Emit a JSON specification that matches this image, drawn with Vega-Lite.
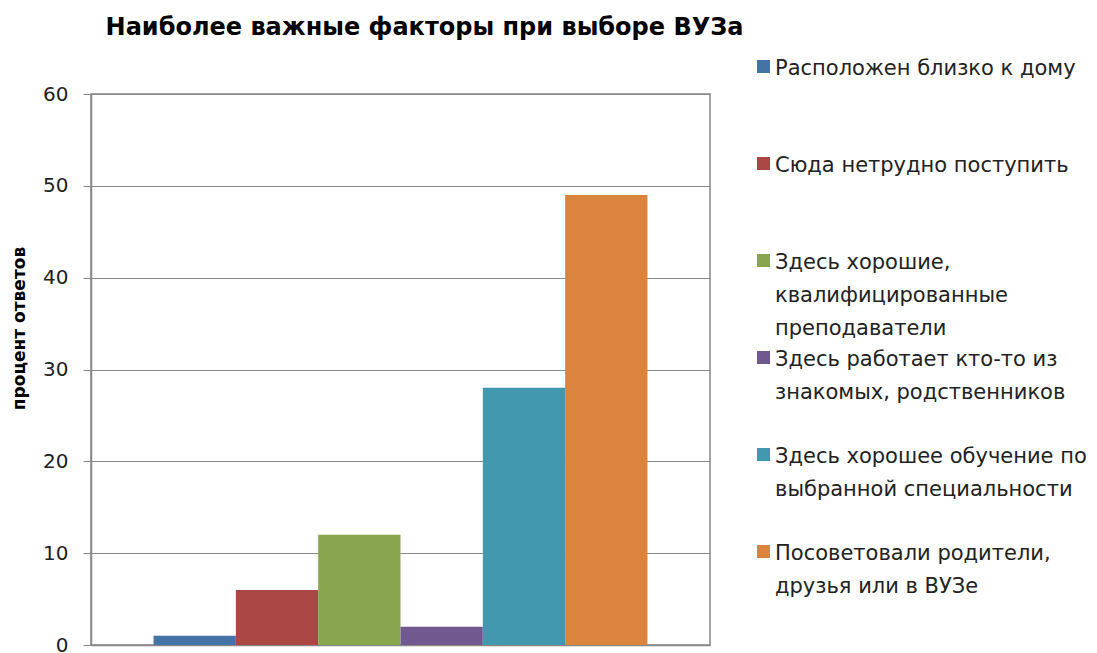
{
  "$schema": "https://vega.github.io/schema/vega-lite/v6.json",
  "autosize": {"type": "none"},
  "width": 619,
  "height": 551,
  "padding": {"left": 91, "top": 94, "right": 387, "bottom": 8},
  "background": "white",
  "title": {
    "text": "Наиболее важные факторы при выборе ВУЗа",
    "font": "DejaVu Sans",
    "fontSize": 24,
    "fontWeight": "bold",
    "color": "#000000",
    "anchor": "middle",
    "dx": 24,
    "offset": 16
  },
  "data": {
    "values": [
      {"factor": "Расположен близко к дому", "value": 1},
      {"factor": "Сюда нетрудно поступить", "value": 6},
      {"factor": "Здесь хорошие,|квалифицированные|преподаватели", "value": 12},
      {"factor": "Здесь работает кто-то из|знакомых, родственников", "value": 2},
      {"factor": "Здесь хорошее обучение по|выбранной специальности", "value": 28},
      {"factor": "Посоветовали родители,|друзья или в ВУЗе", "value": 49}
    ]
  },
  "mark": {"type": "bar"},
  "encoding": {
    "x": {
      "field": "factor",
      "type": "nominal",
      "sort": null,
      "scale": {"paddingInner": 0, "paddingOuter": 0.76},
      "axis": {"labels": false, "ticks": false, "title": null, "domainColor": "#888888", "domainWidth": 1.5, "grid": false}
    },
    "y": {
      "field": "value",
      "type": "quantitative",
      "scale": {"domain": [0, 60], "nice": false},
      "axis": {
        "values": [0, 10, 20, 30, 40, 50, 60],
        "title": "процент ответов",
        "titleFont": "DejaVu Sans",
        "titleFontSize": 17,
        "titleFontWeight": "bold",
        "titleColor": "#000000",
        "titlePadding": 14,
        "titleY": 234,
        "labelFont": "DejaVu Sans",
        "labelFontSize": 20,
        "labelColor": "#222222",
        "labelPadding": 15,
        "tickSize": 8,
        "tickColor": "#888888",
        "domainColor": "#888888",
        "domainWidth": 1.5,
        "gridColor": "#8a8a8a",
        "gridWidth": 1.2
      }
    },
    "color": {
      "field": "factor",
      "type": "nominal",
      "sort": null,
      "scale": {"range": ["#4572A7", "#AA4643", "#89A54E", "#71588F", "#4198AF", "#DB843D"]},
      "legend": {
        "title": null,
        "orient": "none",
        "legendX": 662,
        "legendY": -38,
        "symbolType": "square",
        "symbolSize": 169,
        "symbolStrokeWidth": 0,
        "labelFont": "DejaVu Sans",
        "labelFontSize": 21,
        "labelColor": "#222222",
        "labelExpr": "split(datum.label, '|')",
        "labelLimit": 400,
        "labelBaseline": "top",
        "gridAlign": "all",
        "rowPadding": 8,
        "labelOffset": 1,
        "encode": {"labels": {"update": {"dy": {"value": -9}}}}
      }
    }
  },
  "config": {
    "view": {"stroke": "#888888", "strokeWidth": 1.5},
    "style": {"guide-label": {"lineHeight": 33}}
  }
}
